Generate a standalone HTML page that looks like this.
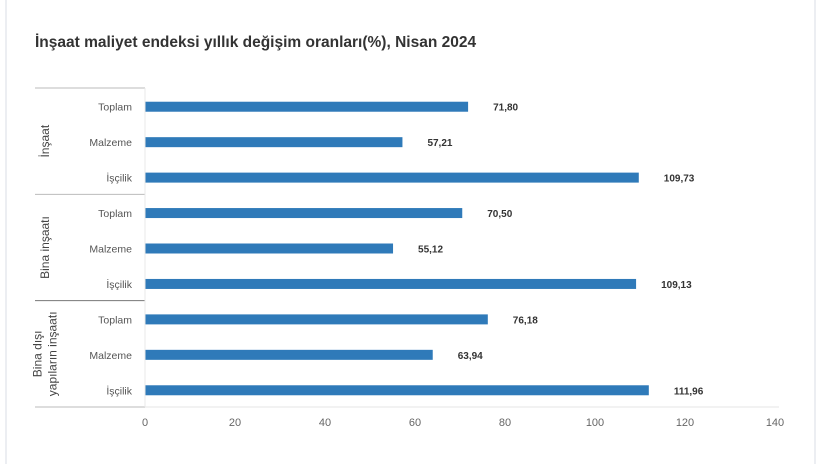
<!DOCTYPE html>
<html><head><meta charset="utf-8"><style>
body{margin:0;background:#fff;}
svg text{font-family:"Liberation Sans",sans-serif;}
</style></head><body>
<svg id="c" width="820" height="464" xmlns="http://www.w3.org/2000/svg">
<rect x="0" y="0" width="820" height="464" fill="#fff"/>
<line x1="6" y1="0" x2="6" y2="464" stroke="#eceef2" stroke-width="2"/>
<line x1="815" y1="0" x2="815" y2="464" stroke="#eceef2" stroke-width="2"/>
<text x="35" y="47" font-size="15.5" font-weight="bold" fill="#333">İnşaat maliyet endeksi yıllık değişim oranları(%), Nisan 2024</text>
<g id="plot"></g>
</svg>
<script>
const categories=["Toplam","Malzeme","İşçilik","Toplam","Malzeme","İşçilik","Toplam","Malzeme","İşçilik"];
const values=[71.80,57.21,109.73,70.50,55.12,109.13,76.18,63.94,111.96];
const valueLabels=["71,80","57,21","109,73","70,50","55,12","109,13","76,18","63,94","111,96"];
const groups=[["İnşaat"],["Bina inşaatı"],["Bina dışı","yapıların inşaatı"]];
const ticks=[0,20,40,60,80,100,120,140];

const NS="http://www.w3.org/2000/svg";
const g=document.getElementById('plot');
const x0=145,xMax=140,xPx=4.5;
const yTop=88,yBot=407;
const band=(yBot-yTop)/categories.length;
const xs=v=>x0+v*xPx;
const ys=i=>yTop+band*(i+0.5);
function mk(t,a){const e=document.createElementNS(NS,t);for(const k in a)e.setAttribute(k,a[k]);g.appendChild(e);return e;}

categories.forEach((c,i)=>{
  const y=ys(i)+1;
  const b=mk('rect',{x:x0,y:y-5,width:xs(values[i])-x0,height:10,fill:'#2f7ab9'});
  
  
  const l=mk('text',{x:x0-13,y:y+4,'text-anchor':'end','font-size':'10.5',fill:'#555'});
  l.textContent=c;
  
  
  const v=mk('text',{x:xs(values[i])+25,y:y+4,'font-size':'10','font-weight':'bold',fill:'#333'});
  v.textContent=valueLabels[i];
  
  
});
// group separators
for(let k=0;k<=groups.length;k++){
  const y=yTop+band*3*k;
  const ln=mk('line',{x1:35,y1:y,x2:x0,y2:y,stroke:(k==2?'#777':'#bbb'),'stroke-width':1});
  
  
}
groups.forEach((lines,k)=>{
  const cy=yTop+band*(3*k+1.5);
  lines.forEach((s,j)=>{
    const off=(j-(lines.length-1)/2)*15;
    const cx=46+off;
    const t=mk('text',{x:cx,y:cy,'text-anchor':'middle','font-size':'12',fill:'#444',transform:`rotate(-90 ${cx} ${cy})`,'dominant-baseline':'middle'});
    t.textContent=s;
    
    
  });
});
const ax=mk('line',{x1:x0,y1:yBot,x2:xs(xMax)+4,y2:yBot,stroke:'#e4e4e4','stroke-width':1});


const ay=mk('line',{x1:x0,y1:yTop,x2:x0,y2:yBot,stroke:'#e8e8e8','stroke-width':1});


ticks.forEach(t=>{
  const e=mk('text',{x:xs(t),y:426,'text-anchor':'middle','font-size':'11',fill:'#666'});
  e.textContent=t;
  
  
});
</script>
</body></html>
